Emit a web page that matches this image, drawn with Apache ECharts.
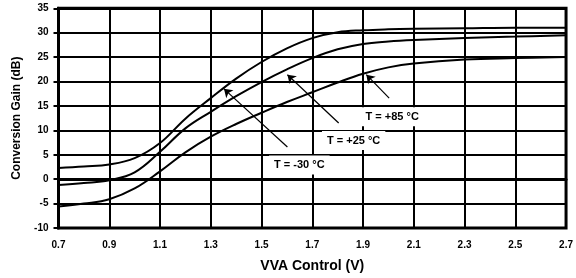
<!DOCTYPE html>
<html>
<head>
<meta charset="utf-8">
<script src="https://cdn.jsdelivr.net/npm/echarts@6/dist/echarts.min.js"></script>
<style>
  html, body { margin: 0; padding: 0; background: #fff; }
  #gain_chart { width: 576px; height: 278px; }
</style>
</head>
<body>
<div id="gain_chart"></div>
<script>
// VVA control voltage (V) and conversion gain (dB) per temperature
var vva = [0.7, 0.8, 0.9, 1.0, 1.1, 1.2, 1.3, 1.4, 1.5, 1.6, 1.7, 1.8, 1.9, 2.0, 2.1, 2.3, 2.5, 2.7];
var gain_m30 = [2.3, 2.6, 3.0, 4.3, 7.4, 12.4, 16.6, 20.6, 24.0, 26.8, 28.9, 30.1, 30.5, 30.7, 30.8, 30.9, 31.0, 31.0];
var gain_p25 = [-1.2, -0.8, -0.2, 1.4, 5.6, 10.4, 13.8, 17.0, 19.9, 22.5, 24.8, 26.6, 27.7, 28.2, 28.5, 28.9, 29.2, 29.5];
var gain_p85 = [-5.6, -5.0, -4.1, -1.9, 1.6, 5.5, 8.7, 11.3, 13.6, 15.8, 17.8, 19.8, 21.6, 22.9, 23.7, 24.5, 24.8, 25.0];

// annotations: label text, label position, arrow tail, arrow tip (data units)
var labels = ['T = -30 °C', 'T = +25 °C', 'T = +85 °C'];
var labelPos = [[1.649, 2.9], [1.863, 7.9], [2.015, 12.8]];
var arrowTail = [[1.602, 6.6], [1.804, 11.5], [2.003, 16.6]];
var arrowTip = [[1.352, 18.5], [1.602, 21.4], [1.913, 21.4]];

var x0 = 0.7; // axis starts at 0.7 V, ticks every 0.2 V
var font = "'Liberation Sans', Arial, sans-serif";

function pts(ys) {
    return vva.map(function (v, i) { return [v - x0, ys[i]]; });
}
function shift(p) { return [p[0] - x0, p[1]]; }

var chart = echarts.init(document.getElementById('gain_chart'));

var curve = {
    type: 'line',
    smooth: 0.4,
    showSymbol: false,
    lineStyle: { color: '#000', width: 2 },
    silent: true
};

var option = {
    animation: false,
    backgroundColor: '#fff',
    grid: {
        left: 58.5, right: 4, top: 8.3, bottom: 49.7,
        show: true, borderColor: '#000', borderWidth: 3
    },
    xAxis: {
        type: 'value',
        min: 0, max: 2.0, interval: 0.2,
        name: 'VVA Control (V)',
        nameLocation: 'middle',
        nameGap: 31,
        nameTextStyle: { fontFamily: font, fontWeight: 'bold', fontSize: 14, color: '#000' },
        axisLine: { lineStyle: { color: '#000', width: 3 } },
        axisTick: { show: true, length: 4, lineStyle: { color: '#000', width: 2 } },
        axisLabel: {
            margin: 12,
            fontFamily: font, fontWeight: 'bold', fontSize: 10, color: '#000',
            formatter: function (v) { return (v + x0).toFixed(1); }
        },
        splitLine: { show: true, lineStyle: { color: '#000', width: 2 } }
    },
    yAxis: {
        type: 'value',
        min: -10, max: 35, interval: 5,
        name: 'Conversion Gain (dB)',
        nameLocation: 'middle',
        nameGap: 36,
        nameTextStyle: { fontFamily: font, fontWeight: 'bold', fontSize: 12, color: '#000' },
        axisLine: { show: true, lineStyle: { color: '#000', width: 3 } },
        axisTick: { show: true, length: 5, lineStyle: { color: '#000', width: 2 } },
        axisLabel: { margin: 10, fontFamily: font, fontWeight: 'bold', fontSize: 10, color: '#000' },
        splitLine: { show: true, lineStyle: { color: '#000', width: 2 } }
    },
    series: [
        Object.assign({}, curve, {
            name: '-30',
            data: pts(gain_m30),
            markLine: {
                silent: true,
                symbol: ['none', 'arrow'],
                symbolSize: 8,
                label: { show: false },
                lineStyle: { color: '#000', width: 1.2, type: 'solid' },
                data: arrowTail.map(function (t, i) {
                    return [{ coord: shift(t) }, { coord: shift(arrowTip[i]) }];
                })
            },
            markPoint: {
                silent: true,
                symbol: 'rect',
                symbolSize: 0,
                label: {
                    show: true,
                    position: 'inside',
                    fontFamily: font, fontWeight: 'bold', fontSize: 11, color: '#000',
                    backgroundColor: '#fff',
                    padding: [4, 5],
                    formatter: function (p) { return p.name; }
                },
                data: labels.map(function (t, i) {
                    return { name: t, coord: shift(labelPos[i]) };
                })
            }
        }),
        Object.assign({}, curve, { name: '+25', data: pts(gain_p25) }),
        Object.assign({}, curve, { name: '+85', data: pts(gain_p85) })
    ]
};
chart.setOption(option);
</script>
</body>
</html>
